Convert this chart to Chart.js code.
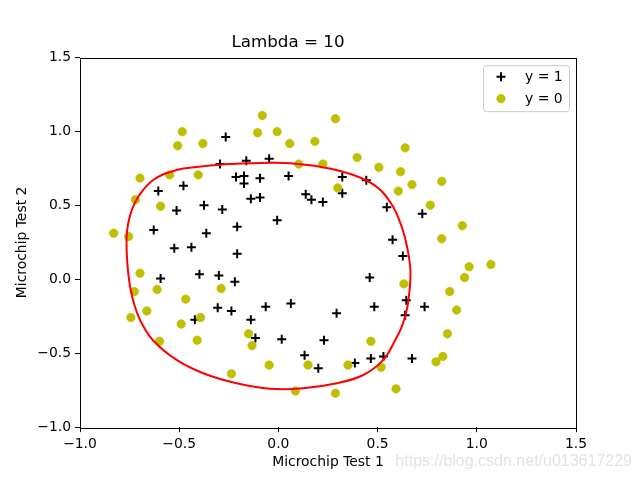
<!DOCTYPE html>
<html>
<head>
<meta charset="utf-8">
<script src="https://cdn.jsdelivr.net/npm/chart.js@4.4.0/dist/chart.umd.min.js"></script>
<style>
  html, body { margin: 0; padding: 0; background: #fff; }
  canvas { display: block; }
</style>
</head>
<body>
<canvas id="grafico" width="640" height="480"></canvas>
<script>
// datos del test de microchips (y = 1)
const aceptadosX = [0.051267,-0.092742,-0.21371,-0.375,-0.51325,-0.52477,-0.39804,-0.30588,0.016705,0.13191,0.38537,0.52938,0.63882,0.73675,0.54666,0.322,0.16647,-0.046659,-0.17339,-0.47869,-0.60541,-0.62846,-0.59389,-0.42108,-0.11578,0.20104,0.46601,0.67339,-0.13882,-0.29435,-0.26555,-0.16187,-0.17339,-0.28283,-0.36348,-0.30012,-0.23675,-0.06394,0.062788,0.22984,0.2932,0.48329,0.64459,0.46025,0.6273,0.57546,0.72523,0.22408,0.44297,0.322,0.13767,-0.0063364,-0.092742,-0.20795,-0.20795,-0.43836,-0.21947,-0.13882];
const aceptadosY = [0.69956,0.68494,0.69225,0.50219,0.46564,0.2098,0.034357,-0.19225,-0.40424,-0.51389,-0.56506,-0.5212,-0.24342,-0.18494,0.48757,0.5826,0.53874,0.81652,0.69956,0.63377,0.59722,0.33406,0.005117,-0.27266,-0.39693,-0.60161,-0.53582,-0.53582,0.54605,0.77997,0.96272,0.8019,0.64839,0.47295,0.31213,0.027047,-0.21418,-0.18494,-0.16301,-0.41155,-0.2288,-0.18494,-0.14108,0.012427,0.15863,0.26827,0.44371,0.52412,0.67032,0.69225,0.57529,0.39985,0.55336,0.35599,0.17325,0.21711,-0.016813,-0.27266];

// rechazados (y = 0)
const rechazadosX = [0.18376,0.22408,0.29896,0.50634,0.61578,0.60426,0.76555,0.92684,0.82316,0.96141,0.93836,0.86348,0.89804,0.85196,0.82892,0.79435,0.59274,0.51786,0.46601,0.35081,0.28744,0.085829,0.14919,-0.13306,-0.40956,-0.39228,-0.74366,-0.69758,-0.75518,-0.69758,-0.4038,-0.38076,-0.50749,-0.54781,0.10311,0.057028,-0.10484,-0.081221,0.28744,0.39689,0.63882,0.82316,0.67339,1.0709,-0.046659,-0.23675,-0.15035,-0.49021,-0.46717,-0.28859,-0.61118,-0.66302,-0.59965,-0.72638,-0.83007,-0.72062,-0.59389,-0.48445,-0.0063364,0.63265];
const rechazadosY = [0.93348,0.77997,0.61915,0.75804,0.7288,0.59722,0.50219,0.3633,0.27558,0.085526,0.012427,-0.082602,-0.20687,-0.36769,-0.5212,-0.55775,-0.7405,-0.5943,-0.41886,-0.57968,-0.76974,-0.75512,-0.57968,-0.4481,-0.41155,-0.25804,-0.25804,0.041667,0.2902,0.68494,0.70687,0.91886,0.90424,0.70687,0.77997,0.91886,0.99196,1.1089,1.087,0.82383,0.88962,0.66301,0.64108,0.10015,-0.57968,-0.63816,-0.36769,-0.3019,-0.13377,-0.0622,-0.067982,-0.21418,-0.41886,-0.082602,0.31213,0.53874,0.49488,0.99927,0.99927,-0.030612];

// frontera de decisión (lambda = 10), leída a ojo del gráfico
const fronteraX = [-0.765,-0.765,-0.757,-0.739,-0.706,-0.631,-0.513,-0.400,-0.294,-0.150,-0.042,0.058,0.210,0.378,0.495,0.570,0.615,0.642,0.658,0.666,0.662,0.648,0.622,0.585,0.529,0.428,0.294,0.125,-0.042,-0.210,-0.379,-0.513,-0.630,-0.689,-0.723,-0.746,-0.760,-0.765];
const fronteraY = [0.199,0.289,0.379,0.469,0.559,0.672,0.740,0.762,0.776,0.785,0.789,0.786,0.762,0.706,0.627,0.510,0.380,0.260,0.150,0.050,-0.060,-0.200,-0.320,-0.420,-0.545,-0.647,-0.703,-0.737,-0.740,-0.703,-0.635,-0.545,-0.415,-0.297,-0.185,-0.060,0.086,0.199];

const ejeMin = -1.0;
const ejeMax = 1.5;
const pasoTicks = 0.5;

const fuente = "'DejaVu Sans', sans-serif";

const juntar = (xs, ys) => xs.map((x, i) => ({ x: x, y: ys[i] }));
const formato = (v) => Number(v).toFixed(1).replace('-', '\u2212');

// marco completo tipo matplotlib + leyenda con borde + marca de agua
const extras = {
  id: 'extras',
  afterDraw(chart) {
    const ctx = chart.ctx;
    const a = chart.chartArea;
    ctx.save();
    ctx.strokeStyle = '#000';
    ctx.lineWidth = 1;
    ctx.strokeRect(Math.round(a.left) + 0.5, Math.round(a.top) + 0.5,
                   Math.round(a.right - a.left), Math.round(a.bottom - a.top));

    // leyenda
    const ancho = 86, alto = 46;
    const lx = a.right - 7 - ancho, ly = a.top + 7.5;
    ctx.beginPath();
    ctx.roundRect(lx + 0.5, ly + 0.5, ancho, alto, 3);
    ctx.fillStyle = 'rgba(255,255,255,0.8)';
    ctx.fill();
    ctx.strokeStyle = '#cccccc';
    ctx.stroke();

    const entradas = [chart.data.datasets[1], chart.data.datasets[2]];
    entradas.forEach((ds, i) => {
      const cy = ly + 11.5 + i * 22;
      const cx = lx + 18;
      ctx.fillStyle = ds.backgroundColor;
      ctx.strokeStyle = ds.borderColor;
      ctx.lineWidth = ds.pointBorderWidth;
      Chart.helpers.drawPoint(ctx, { pointStyle: ds.pointStyle, radius: ds.pointRadius, rotation: 0, borderWidth: ds.pointBorderWidth }, cx, cy);
      ctx.fillStyle = '#000';
      ctx.font = '13.9px ' + fuente;
      ctx.textAlign = 'left';
      ctx.textBaseline = 'middle';
      ctx.fillText(ds.label, lx + 42, cy + 0.5);
    });

    // marca de agua
    ctx.fillStyle = '#e3e3e3';
    ctx.font = "16px 'Liberation Sans', Arial, sans-serif";
    ctx.textAlign = 'right';
    ctx.textBaseline = 'middle';
    ctx.fillText('https://blog.csdn.net/u013617229', 632, 462);
    ctx.restore();
  }
};

const ejeBase = (titulo) => ({
  type: 'linear',
  min: ejeMin,
  max: ejeMax,
  ticks: {
    stepSize: pasoTicks,
    color: '#000',
    padding: 4,
    autoSkip: false,
    maxRotation: 0,
    font: { family: fuente, size: 13.9 },
    callback: formato
  },
  grid: {
    display: true,
    drawOnChartArea: false,
    drawTicks: true,
    tickLength: 5,
    color: '#000',
    lineWidth: 1
  },
  border: { display: false },
  title: {
    display: true,
    text: titulo,
    color: '#000',
    font: { family: fuente, size: 13.9 }
  }
});

const ejeX = ejeBase('Microchip Test 1');
ejeX.position = 'bottom';
ejeX.title.padding = { top: 0, bottom: 9.5 };
ejeX.afterFit = (s) => { s.height = 52.8; };

const ejeY = ejeBase('Microchip Test 2');
ejeY.position = 'left';
ejeY.title.padding = { top: 14.5, bottom: 0 };
ejeY.afterFit = (s) => { s.width = 80; };

const grafico = new Chart(document.getElementById('grafico'), {
  type: 'scatter',
  data: {
    datasets: [
      {
        label: 'frontera',
        data: juntar(fronteraX, fronteraY),
        showLine: true,
        borderColor: '#ff0000',
        borderWidth: 2,
        pointRadius: 0,
        tension: 0.4,
        fill: false,
        order: 0
      },
      {
        label: 'y = 1',
        data: juntar(aceptadosX, aceptadosY),
        pointStyle: 'cross',
        pointRadius: 4.5,
        pointBorderWidth: 2,
        borderColor: '#000000',
        backgroundColor: '#000000',
        order: 2
      },
      {
        label: 'y = 0',
        data: juntar(rechazadosX, rechazadosY),
        pointStyle: 'circle',
        pointRadius: 4.2,
        pointBorderWidth: 0.8,
        borderColor: '#bfbf00',
        backgroundColor: '#bfbf00',
        order: 1
      }
    ]
  },
  options: {
    responsive: false,
    animation: false,
    layout: { padding: { left: 0, right: 64, top: 0, bottom: 0 } },
    plugins: {
      legend: { display: false },
      tooltip: { enabled: false },
      title: {
        display: true,
        text: 'Lambda = 10',
        color: '#000',
        font: { family: fuente, size: 16.7, weight: 'normal' },
        padding: { top: 33, bottom: 4.6 }
      }
    },
    scales: { x: ejeX, y: ejeY }
  },
  plugins: [extras]
});
</script>
</body>
</html>
